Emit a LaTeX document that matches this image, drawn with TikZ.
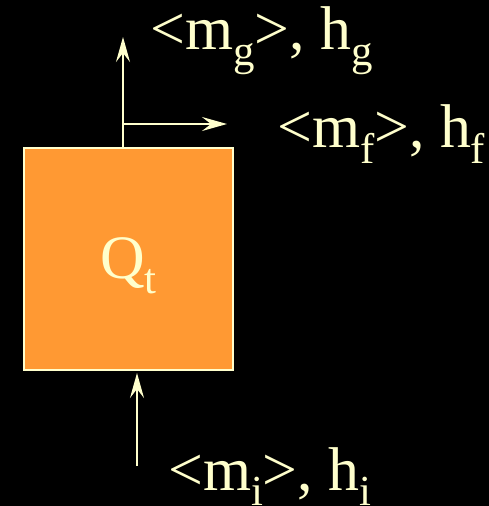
\documentclass[tikz,border=0pt]{standalone}
\usepackage{fontspec}
\setmainfont{Liberation Serif}
\usetikzlibrary{arrows.meta}
\definecolor{cream}{RGB}{255,255,204}
\definecolor{tankorange}{RGB}{255,153,51}
\newcommand{\subtxt}[1]{\raisebox{-0.25em}{\fontsize{43}{48}\selectfont #1}}
\tikzset{
  flow/.style={draw=cream, line width=2bp, -{Stealth[length=25bp, width=14bp, inset=9bp]}},
  label/.style={text=cream, anchor=base west, inner sep=0pt, font=\fontsize{62}{70}\selectfont}
}
\begin{document}
\begin{tikzpicture}[x=1bp, y=-1bp]
  % Background
  \fill[black] (0,0) rectangle (489,506);
  \useasboundingbox (0,0) rectangle (489,506);
  % Control volume
  \node[draw=cream, fill=tankorange, line width=2bp, minimum width=209bp, minimum height=222bp, inner sep=0pt] (tank) at (128.5,259) {};
  \node[label] (heat) at (100,278) {Q\subtxt{t}};
  % Outlet and inlet points
  \coordinate (gout) at (123,148);
  \coordinate (gtip) at (123,37);
  \coordinate (fout) at (123,124);
  \coordinate (ftip) at (227,124);
  \coordinate (iin) at (137,466);
  \coordinate (itip) at (137,373);
  \draw[flow] (gout) -- (gtip);
  \draw[draw=cream, line width=2bp] (fout) -- (gout);
  \draw[flow] (fout) -- (ftip);
  \draw[flow] (iin) -- (itip);
  % Labels
  \node[label] (glabel) at (150,50) {<m\subtxt{g}>, h\subtxt{g}};
  \node[label] (flabel) at (277,148) {<m\subtxt{f}>, h\subtxt{f}};
  \node[label] (ilabel) at (168,490) {<m\subtxt{i}>, h\subtxt{i}};
\end{tikzpicture}
\end{document}
